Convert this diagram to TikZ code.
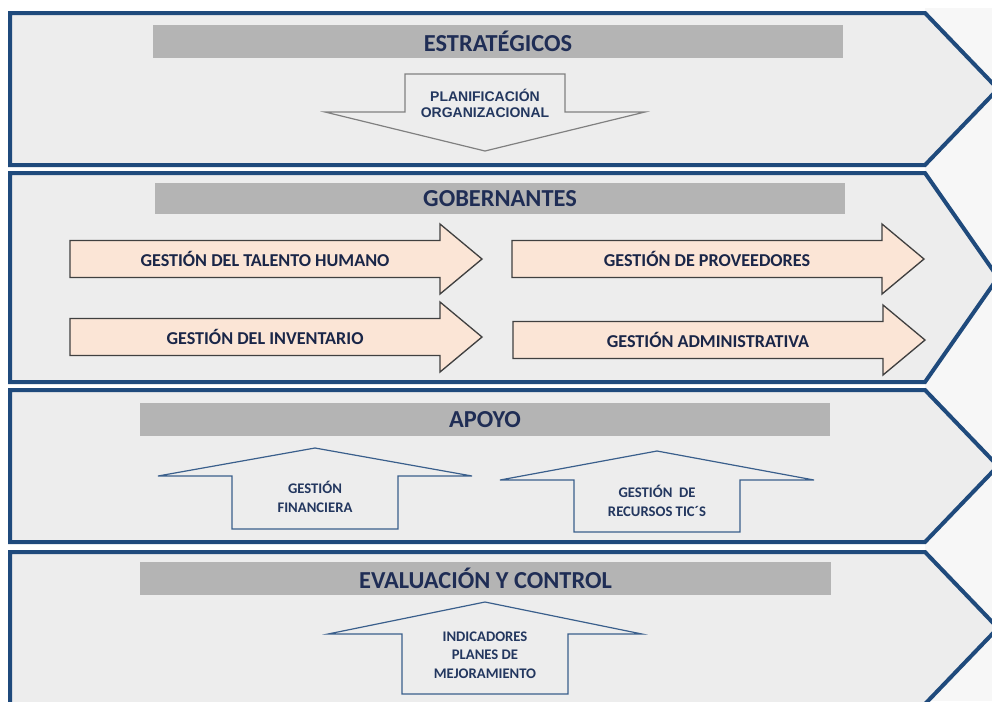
\documentclass[tikz,border=0pt]{standalone}
\usepackage{fontspec}
\setmainfont{Carlito}
\newfontfamily\arialfont{Liberation Sans}

\definecolor{bandfill}{HTML}{EDEDED}
\definecolor{bandline}{HTML}{1F4A7C}
\definecolor{barfill}{HTML}{B4B4B4}
\definecolor{titlenavy}{HTML}{1F2D55}
\definecolor{peach}{HTML}{FBE5D6}
\definecolor{upline}{HTML}{3A5F8C}
\definecolor{textblue}{HTML}{23375F}

\tikzset{
  band/.style={fill=bandfill, draw=bandline, line width=3pt, line join=miter},
  titlebar/.style={fill=barfill},
  titletext/.style={text=titlenavy, font=\bfseries\fontsize{18.3}{20}\selectfont},
  procarrow/.style={fill=peach, draw=black!75, line width=1pt},
  proctext/.style={text=titlenavy!85!black, font=\bfseries\fontsize{13.6}{15}\selectfont},
  uparrow/.style={draw=upline, line width=0.9pt},
  downarrow/.style={draw=gray, line width=0.9pt},
  boxtext/.style={text=textblue, align=center, font=\bfseries\fontsize{11}{14}\selectfont},
}

\begin{document}
\begin{tikzpicture}[x=0.75pt, y=-0.75pt]

\useasboundingbox (0,0) rectangle (992,701);
\clip (0,0) rectangle (992,701);
\fill[white] (0,0) rectangle (992,701);
\fill[black!3] (925,8) rectangle (992,701);

% bandas de procesos
\foreach \top/\bot in {13/165, 173/382, 390/542, 552/704}
{
    \filldraw[band] (10,\top) -- (925,\top) -- (998,{(\top+\bot)/2}) -- (925,\bot) -- (10,\bot) -- cycle;
}

% titulos
\foreach \xa/\ya/\xb/\yb/\id/\txt in {153/25/843/58/estrategicos/ESTRATÉGICOS,
    155/183/845/214/gobernantes/GOBERNANTES,
    140/403/830/436/apoyo/APOYO,
    140/562/831/595/evaluacion/EVALUACIÓN Y CONTROL}
{
    \fill[titlebar] (\xa,\ya) rectangle (\xb,\yb);
    \node[titletext] (\id) at ({(\xa+\xb)/2},{(\ya+\yb)/2}) {\txt};
}

% planificacion
\draw[downarrow] (405,74) -- (565,74) -- (565,112) -- (645,112) -- (485,151) -- (325,112) -- (405,112) -- cycle;
\node[text=textblue, align=center, font=\arialfont\bfseries\fontsize{10.5}{11.5}\selectfont] (planificacion) at (485,103.5) {PLANIFICACIÓN\\ORGANIZACIONAL};

% procesos gobernantes
\foreach \x/\y/\id/\txt in {70/259/talento/{GESTIÓN DEL TALENTO HUMANO},
    70/337/inventario/{GESTIÓN DEL INVENTARIO},
    512/259/proveedores/{GESTIÓN DE PROVEEDORES},
    513/340/administrativa/{GESTIÓN ADMINISTRATIVA}}
{
    \draw[procarrow] (\x,\y-18.5) -- (\x+370,\y-18.5) -- (\x+370,\y-35) -- (\x+412,\y) -- (\x+370,\y+35) -- (\x+370,\y+18.5) -- (\x,\y+18.5) -- cycle;
    \node[proctext] (\id) at (\x+195,\y) {\txt};
}

% apoyo y evaluacion
\foreach \x/\ty/\wy/\by/\id/\txt in {315/448/476/529/financiera/{GESTIÓN\\FINANCIERA},
    657/451/480/532/tics/{GESTIÓN\ \ DE\\RECURSOS TIC´S},
    485/602/634/694/indicadores/{INDICADORES\\PLANES DE\\MEJORAMIENTO}}
{
    \draw[uparrow] (\x,\ty) -- (\x+157,\wy) -- (\x+83,\wy) -- (\x+83,\by) -- (\x-83,\by) -- (\x-83,\wy) -- (\x-157,\wy) -- cycle;
    \node[boxtext] (\id) at (\x,\wy+21) {\txt};
}

\end{tikzpicture}
\end{document}
